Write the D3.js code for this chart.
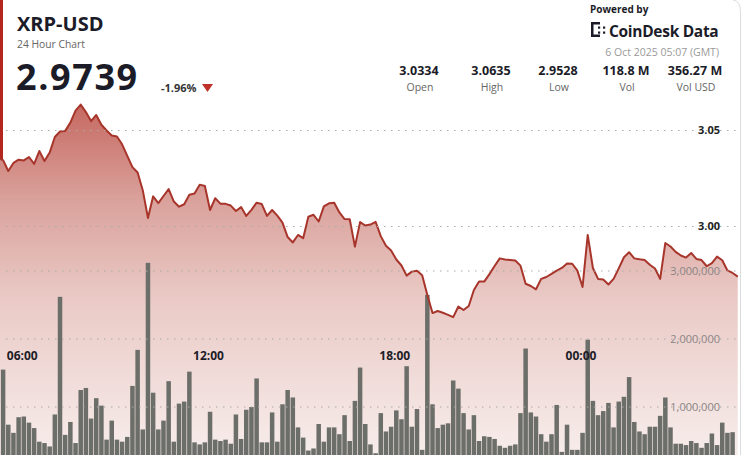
<!DOCTYPE html>
<html><head><meta charset="utf-8">
<script src="https://cdn.jsdelivr.net/npm/d3@7"></script>
<style>
html,body{margin:0;padding:0;background:#fff;overflow:hidden;}
svg{display:block;font-family:"Open Sans",sans-serif;}
</style></head><body>
<svg id="chart" width="745" height="455"></svg>
<script>
// ---------- data ----------
const symbol = "XRP-USD";
const subtitle = "24 Hour Chart";
const lastPrice = "2.9739";
const changePct = "-1.96%";
const poweredBy = "Powered by";
const brand = "CoinDesk Data";
const timestamp = "6 Oct 2025 05:07 (GMT)";
const statLabels = ["Open", "High", "Low", "Vol", "Vol USD"];
const statValues = ["3.0334", "3.0635", "2.9528", "118.8 M", "356.27 M"];
const priceTicks = [3.00, 3.05];
const volumeTicks = [1000000, 2000000, 3000000];
const timeTicks = ["2025-10-05T06:00Z", "2025-10-05T12:00Z", "2025-10-05T18:00Z", "2025-10-06T00:00Z"];
const stepMinutes = 10;
const priceStart = "2025-10-05T05:10Z";
const prices = [
 3.0357,3.0346,3.0289,3.0331,3.0348,3.0344,3.0362,3.0326,3.0393,3.0341,
 3.0385,3.0466,3.0495,3.0498,3.0541,3.0604,3.0635,3.0596,3.0549,3.0581,
 3.0530,3.0500,3.0474,3.0469,3.0428,3.0368,3.0309,3.0281,3.0188,3.0044,
 3.0157,3.0122,3.0159,3.0195,3.0130,3.0103,3.0116,3.0165,3.0172,3.0218,
 3.0211,3.0086,3.0147,3.0119,3.0118,3.0109,3.0081,3.0101,3.0055,3.0087,
 3.0124,3.0117,3.0055,3.0086,3.0057,3.0020,2.9945,2.9917,2.9956,2.9939,
 3.0051,3.0061,3.0026,3.0105,3.0121,3.0124,3.0073,3.0039,3.0038,2.9895,
 3.0023,3.0005,3.0010,3.0024,2.9950,2.9900,2.9875,2.9828,2.9797,2.9744,
 2.9765,2.9769,2.9746,2.9643,2.9549,2.9560,2.9551,2.9540,2.9528,2.9583,
 2.9565,2.9586,2.9669,2.9714,2.9713,2.9752,2.9794,2.9834,2.9828,2.9826,
 2.9823,2.9796,2.9702,2.9690,2.9673,2.9727,2.9737,2.9753,2.9770,2.9784,
 2.9807,2.9806,2.9770,2.9685,2.9956,2.9784,2.9727,2.9724,2.9698,2.9727,
 2.9782,2.9840,2.9866,2.9834,2.9829,2.9826,2.9801,2.9781,2.9727,2.9914,
 2.9896,2.9868,2.9849,2.9838,2.9862,2.9831,2.9825,2.9793,2.9809,2.9843,
 2.9824,2.9771,2.9758,2.9739
];
const volumeStart = "2025-10-05T05:20Z";
const volumesM = [
 1.55,0.74,0.62,0.85,0.86,0.77,0.69,0.49,0.47,0.42,
 0.89,2.62,0.59,0.78,0.47,1.25,1.28,0.83,1.13,1.02,
 0.52,0.80,0.52,0.49,0.56,1.31,1.84,0.67,3.12,1.21,
 0.67,0.80,1.38,0.49,1.05,1.08,1.52,0.48,0.45,0.48,
 0.93,0.52,0.50,0.52,0.46,0.89,0.53,0.96,1.00,1.42,
 0.48,0.48,0.92,0.49,1.04,1.25,1.14,0.70,0.55,0.36,
 0.39,0.75,0.49,0.70,0.70,0.60,0.88,0.50,1.09,1.58,
 0.75,0.45,0.32,0.91,0.64,0.71,0.95,0.82,1.60,0.71,
 0.97,0.37,2.65,1.04,0.69,0.74,0.76,1.39,1.27,0.91,
 0.67,0.88,0.50,0.57,0.56,0.53,0.43,0.40,0.43,0.45,
 0.91,1.86,0.92,0.86,0.60,0.49,0.60,1.03,0.34,0.74,
 0.37,0.37,0.62,1.99,1.09,0.88,0.94,1.06,0.70,1.08,
 1.15,1.44,0.78,0.64,0.60,0.71,0.71,0.87,1.14,0.70,
 0.46,0.46,0.44,0.50,0.47,0.40,0.47,0.61,0.44,0.77,
 0.62,0.63
];
const xDomain = ["2025-10-05T05:14Z", "2025-10-06T05:14Z"];

// ---------- build ----------
const W = 745, H = 455;
const svg = d3.select("#chart");
const step = stepMinutes * 60000;
const pStart = new Date(priceStart).getTime();
const vStart = new Date(volumeStart).getTime();
const priceData = prices.map((p, i) => ({t: new Date(pStart + i * step), v: p}));
const volData = volumesM.map((v, i) => ({t: new Date(vStart + i * step), v: v * 1e6}));

const x = d3.scaleUtc().domain(xDomain.map(d => new Date(d))).range([0, 745]);
const yP = d3.scaleLinear().domain([2.95, 3.05]).range([322.5, 130.5]);
const yV = d3.scaleLinear().domain([0, 3000000]).range([475, 271]);

const defs = svg.append("defs");
const grad = defs.append("linearGradient").attr("id", "fillGrad")
  .attr("gradientUnits", "userSpaceOnUse").attr("x1", 0).attr("x2", 0).attr("y1", 100).attr("y2", 455);
[[0, "#c4665e"], [0.28, "#daa19b"], [0.56, "#eacac6"], [1, "#f7edeb"]].forEach(([o, c]) =>
  grad.append("stop").attr("offset", o).attr("stop-color", c));
defs.append("clipPath").attr("id", "plotClip").append("rect")
  .attr("x", 0).attr("y", 0).attr("width", 740).attr("height", H);

// left accent stripe
svg.append("rect").attr("x", 0).attr("y", 0).attr("width", 3).attr("height", H).attr("fill", "#b3261e");

const plot = svg.append("g").attr("clip-path", "url(#plotClip)");

// area
plot.append("path").datum(priceData)
  .attr("fill", "url(#fillGrad)")
  .attr("d", d3.area().x(d => x(d.t)).y0(H + 30).y1(d => yP(d.v)));

// volume bars
const bw = (x(new Date(vStart + step)) - x(new Date(vStart))) * 0.87;
plot.append("g").selectAll("rect").data(volData).join("rect")
  .attr("x", d => x(d.t) - bw / 2)
  .attr("y", d => yV(d.v))
  .attr("width", bw)
  .attr("height", d => yV(0) - yV(d.v))
  .attr("fill", "#6c6e69");

// grid lines
const gridG = svg.append("g");
priceTicks.forEach(p => gridG.append("line")
  .attr("x1", 6).attr("x2", 738).attr("y1", yP(p)).attr("y2", yP(p))
  .attr("stroke", "#a9a9a9").attr("stroke-width", 1).attr("stroke-dasharray", "1.5,5.5"));
volumeTicks.forEach(v => gridG.append("line")
  .attr("x1", 6).attr("x2", 738).attr("y1", yV(v)).attr("y2", yV(v))
  .attr("stroke", "#a9a9a9").attr("stroke-width", 1).attr("stroke-dasharray", "1.5,5.5"));

// axis labels
const fmtVol = d3.format(",");
priceTicks.forEach(p => svg.append("text")
  .attr("x", 720).attr("y", yP(p)).attr("dy", "0.35em").attr("text-anchor", "end")
  .attr("font-size", 11).attr("font-weight", 700).attr("fill", "#222")
  .text(d3.format(".2f")(p)));
volumeTicks.forEach(v => svg.append("text")
  .attr("x", 720).attr("y", yV(v)).attr("dy", "0.35em").attr("text-anchor", "end")
  .attr("font-size", 11).attr("fill", "#8a8584")
  .text(fmtVol(v)));
const fmtTime = d3.utcFormat("%H:%M");
timeTicks.forEach(t => {
  const d = new Date(t);
  svg.append("text").attr("x", x(d) - 1.5).attr("y", 360).attr("text-anchor", "middle")
    .attr("font-size", 12).attr("font-weight", 700).attr("fill", "#1d1d28")
    .text(fmtTime(d));
});

// price line
plot.append("path").datum(priceData)
  .attr("fill", "none").attr("stroke", "#a8352b").attr("stroke-width", 2)
  .attr("stroke-linejoin", "round")
  .attr("d", d3.line().x(d => x(d.t)).y(d => yP(d.v)));

// right card border
svg.append("path").attr("d", "M740.5,455 V12 Q740.5,1 733,0")
  .attr("fill", "none").attr("stroke", "#dcdcdc").attr("stroke-width", 1);

// ---------- header ----------
svg.append("text").attr("x", 17).attr("y", 30.8).attr("font-size", 20).attr("font-weight", 700)
  .attr("fill", "#1b1c28").text(symbol);
svg.append("text").attr("x", 17).attr("y", 47.8).attr("font-size", 10.3)
  .attr("fill", "#666").text(subtitle);
svg.append("text").attr("x", 16).attr("y", 90).attr("font-size", 36).attr("font-weight", 700)
  .attr("letter-spacing", 1.6).attr("fill", "#1b1c28").text(lastPrice);
svg.append("text").attr("x", 161).attr("y", 92).attr("font-size", 11).attr("font-weight", 700)
  .attr("fill", "#333").text(changePct);
svg.append("path").attr("d", "M202,84 L213,84 L207.5,92 Z").attr("fill", "#c0302a");

// brand block
svg.append("text").attr("x", 590).attr("y", 13).attr("font-size", 10).attr("font-weight", 700)
  .attr("fill", "#1b1c28").text(poweredBy);
const logo = svg.append("g").attr("fill", "#1b1c28");
[[591, 22, 9, 2.5], [591, 34.5, 9, 2.5], [591, 22, 2.5, 15], [598, 26.5, 2.2, 2.2], [598, 31.5, 2.2, 2.2],
 [603, 26.5, 2.2, 2.2], [603, 31.5, 2.2, 2.2]].forEach(r =>
  logo.append("rect").attr("x", r[0]).attr("y", r[1]).attr("width", r[2]).attr("height", r[3]));
svg.append("text").attr("x", 609).attr("y", 37).attr("font-size", 15.5).attr("font-weight", 700)
  .attr("letter-spacing", -0.3).attr("fill", "#1b1c28").text(brand);
svg.append("text").attr("x", 719).attr("y", 56).attr("text-anchor", "end").attr("font-size", 10.5)
  .attr("fill", "#9a9a9a").text(timestamp);

const statX = [419, 491, 558, 626, 695];
statValues.forEach((v, i) => {
  svg.append("text").attr("x", statX[i]).attr("y", 75).attr("text-anchor", "middle")
    .attr("font-size", 12.5).attr("font-weight", 700).attr("fill", "#1b1c28").text(v);
  svg.append("text").attr("x", statX[i] + 1).attr("y", 91).attr("text-anchor", "middle")
    .attr("font-size", 10.5).attr("fill", "#666").text(statLabels[i]);
});
</script>
</body></html>
